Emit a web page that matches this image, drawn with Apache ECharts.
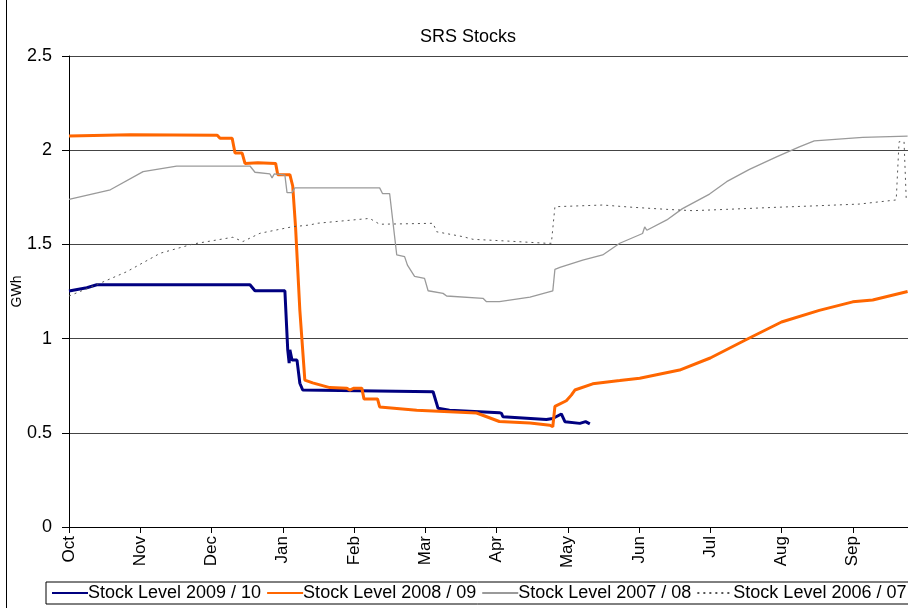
<!DOCTYPE html>
<html>
<head>
<meta charset="utf-8">
<title>SRS Stocks</title>
<script src="https://cdn.jsdelivr.net/npm/echarts@6/dist/echarts.min.js"></script>
<style>
	html, body { margin: 0; padding: 0; background: #fff; }
	#chart { width: 908px; height: 608px; }
</style>
</head>
<body>
<div id="chart"></div>
<script>
	// x values are months counted from 1 Oct (0 = Oct, 1 = Nov, ...), y values in GWh
	var months = ['Oct', 'Nov', 'Dec', 'Jan', 'Feb', 'Mar', 'Apr', 'May', 'Jun', 'Jul', 'Aug', 'Sep'];
	var seriesNames = ['Stock Level 2009 / 10', 'Stock Level 2008 / 09', 'Stock Level 2007 / 08', 'Stock Level 2006 / 07'];

	var stock2009 = [
		[0, 1.253], [0.25, 1.27], [0.39, 1.286], [2.54, 1.286], [2.61, 1.254], [3.03, 1.254],
		[3.07, 0.94], [3.09, 0.87], [3.10, 0.94], [3.13, 0.886], [3.20, 0.886], [3.24, 0.763],
		[3.28, 0.727], [5.11, 0.718], [5.18, 0.63], [5.34, 0.62], [6.04, 0.607], [6.07, 0.603],
		[6.09, 0.585], [6.70, 0.571], [6.79, 0.576], [6.91, 0.60], [6.96, 0.559], [7.17, 0.55],
		[7.25, 0.559], [7.31, 0.547]
	];
	var stock2008 = [
		[0, 2.075], [0.86, 2.082], [2.08, 2.08], [2.12, 2.063], [2.29, 2.063], [2.33, 1.985],
		[2.43, 1.985], [2.47, 1.93], [2.65, 1.934], [2.90, 1.93], [2.93, 1.87], [3.10, 1.87],
		[3.14, 1.81], [3.18, 1.59], [3.24, 1.15], [3.31, 0.78], [3.42, 0.765], [3.66, 0.74],
		[3.90, 0.737], [3.94, 0.727], [4.00, 0.737], [4.11, 0.737], [4.14, 0.68], [4.33, 0.68],
		[4.36, 0.637], [4.88, 0.62], [5.72, 0.605], [5.90, 0.58], [6.04, 0.56], [6.47, 0.552],
		[6.75, 0.54], [6.79, 0.532], [6.82, 0.64], [6.98, 0.67], [7.05, 0.70], [7.10, 0.727],
		[7.35, 0.76], [7.73, 0.777], [8.01, 0.79], [8.57, 0.833], [9.0, 0.897], [9.48, 0.99],
		[10.0, 1.088], [10.53, 1.15], [11.0, 1.195], [11.28, 1.205], [11.77, 1.25]
	];
	var stock2007 = [
		[0, 1.739], [0.58, 1.79], [1.04, 1.886], [1.51, 1.916], [2.54, 1.916], [2.61, 1.883],
		[2.82, 1.874], [2.85, 1.853], [2.88, 1.874], [2.96, 1.872], [3.03, 1.868], [3.06, 1.775],
		[3.13, 1.775], [3.17, 1.80], [4.36, 1.80], [4.40, 1.77], [4.50, 1.77], [4.60, 1.444],
		[4.71, 1.435], [4.75, 1.39], [4.85, 1.33], [4.99, 1.32], [5.04, 1.254], [5.25, 1.24],
		[5.30, 1.226], [5.81, 1.214], [5.86, 1.196], [6.04, 1.196], [6.47, 1.22], [6.79, 1.253],
		[6.82, 1.368], [6.89, 1.378], [7.21, 1.417], [7.49, 1.444], [7.73, 1.506], [8.05, 1.558],
		[8.08, 1.593], [8.11, 1.575], [8.39, 1.63], [8.61, 1.69], [8.99, 1.767], [9.23, 1.833],
		[9.55, 1.898], [9.93, 1.965], [10.25, 2.018], [10.46, 2.05], [11.14, 2.068], [11.77, 2.075]
	];
	var stock2006 = [
		[0, 1.226], [0.43, 1.293], [0.81, 1.355], [1.28, 1.453], [1.74, 1.502], [2.30, 1.538],
		[2.44, 1.515], [2.68, 1.559], [3.14, 1.594], [3.38, 1.603], [3.48, 1.612], [4.22, 1.638],
		[4.36, 1.607], [5.11, 1.612], [5.16, 1.567], [5.53, 1.541], [5.67, 1.527], [6.14, 1.518],
		[6.70, 1.506], [6.77, 1.506], [6.82, 1.70], [7.49, 1.709], [7.91, 1.697], [8.39, 1.686],
		[8.75, 1.679], [9.23, 1.686], [9.93, 1.697], [10.43, 1.704], [11.09, 1.714], [11.61, 1.736],
		[11.65, 2.045], [11.72, 2.045], [11.75, 1.745]
	];

	var fontFamily = '"Liberation Sans", Arial, sans-serif';
	var myChart = echarts.init(document.getElementById('chart'));

	myChart.setOption({
		animation: false,
		backgroundColor: '#fff',
		textStyle: { fontFamily: fontFamily, color: '#000' },
		title: {
			text: 'SRS Stocks',
			left: 463,
			top: 23,
			textAlign: 'center',
			textStyle: { fontFamily: fontFamily, fontSize: 18, fontWeight: 'normal', color: '#000' }
		},
		graphic: [{
			type: 'line',
			shape: { x1: 6.5, y1: 0, x2: 6.5, y2: 608 },
			style: { stroke: '#000', lineWidth: 1 }
		}],
		legend: {
			data: seriesNames,
			left: 46,
			top: 582,
			width: 900,
			padding: [2, 5, 2, 5],
			itemGap: 5,
			itemWidth: 36,
			itemHeight: 14,
			borderColor: '#000',
			borderWidth: 1,
			borderRadius: 0,
			itemStyle: { opacity: 0 },
			textStyle: { fontFamily: fontFamily, fontSize: 18, color: '#000', padding: [0, 0, 0, -5] }
		},
		grid: {
			left: 69,
			top: 56,
			width: 855,
			height: 471,
			outerBoundsMode: 'none'
		},
		xAxis: {
			type: 'value',
			min: 0,
			max: 12,
			interval: 1,
			axisLine: { lineStyle: { color: '#000', width: 1 } },
			axisTick: { length: 6, lineStyle: { color: '#000' } },
			splitLine: { show: false },
			axisLabel: {
				rotate: 90,
				margin: 9,
				fontSize: 17,
				color: '#000',
				fontFamily: fontFamily,
				formatter: function (v) { return months[v] || ''; }
			}
		},
		yAxis: {
			type: 'value',
			min: 0,
			max: 2.5,
			interval: 0.5,
			name: 'GWh',
			nameLocation: 'middle',
			nameRotate: 90,
			nameGap: 45,
			nameMoveOverlap: false,
			nameTextStyle: { fontFamily: fontFamily, fontSize: 14, color: '#000' },
			axisLine: { show: true, lineStyle: { color: '#000', width: 1 } },
			axisTick: { show: true, length: 7, lineStyle: { color: '#000' } },
			splitLine: { lineStyle: { color: '#444', width: 1 } },
			axisLabel: { margin: 17, fontSize: 18, color: '#000', fontFamily: fontFamily }
		},
		series: [{
			name: seriesNames[0],
			type: 'line',
			symbol: 'none',
			data: stock2009,
			lineStyle: { color: '#000080', width: 3 },
			itemStyle: { color: '#000080' }
		}, {
			name: seriesNames[1],
			type: 'line',
			symbol: 'none',
			data: stock2008,
			lineStyle: { color: '#ff6600', width: 3 },
			itemStyle: { color: '#ff6600' }
		}, {
			name: seriesNames[2],
			type: 'line',
			symbol: 'none',
			data: stock2007,
			lineStyle: { color: '#9a9a9a', width: 1.3 },
			itemStyle: { color: '#9a9a9a' }
		}, {
			name: seriesNames[3],
			type: 'line',
			symbol: 'none',
			data: stock2006,
			lineStyle: { color: '#555', width: 1, type: [2, 4] },
			itemStyle: { color: '#555' }
		}]
	});
</script>
</body>
</html>
